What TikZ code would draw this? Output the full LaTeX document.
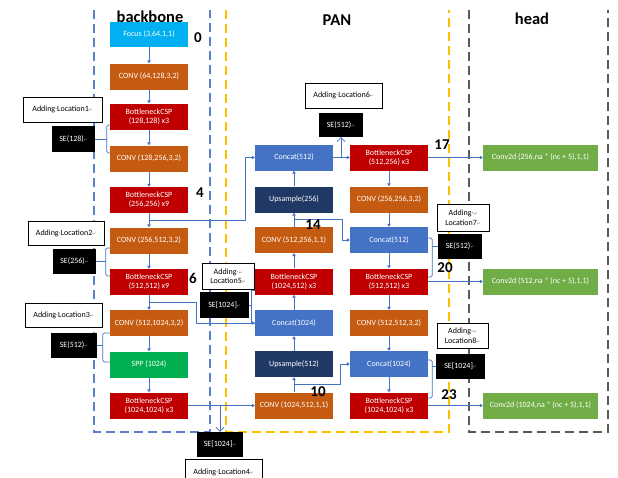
\documentclass[tikz,border=0pt]{standalone}
\usepackage{fontspec}
\setmainfont{Carlito}
\newfontfamily\dejavu{DejaVu Sans}
\usetikzlibrary{arrows.meta,calc}
\definecolor{cOrange}{RGB}{197,90,17}
\definecolor{cRed}{RGB}{192,0,0}
\definecolor{cCyan}{RGB}{0,176,240}
\definecolor{cGreen}{RGB}{0,176,80}
\definecolor{cBlue}{RGB}{68,114,196}
\definecolor{cNavy}{RGB}{31,56,100}
\definecolor{cHead}{RGB}{112,173,71}
\definecolor{cArrow}{RGB}{68,114,196}
\definecolor{cBack}{RGB}{91,130,200}
\definecolor{cPan}{RGB}{255,192,0}
\definecolor{cHeadF}{RGB}{85,95,75}
\newcommand\retm{{\fontsize{4.5}{4.5}\selectfont\dejavu\color{gray}↵}}
\newcommand\dotm{{\color{gray}·}}
\begin{document}
\begin{tikzpicture}[x=1pt,y=-1pt,
  blk/.style={minimum width=78pt,minimum height=26pt,inner sep=0pt,text=white,font=\fontsize{8}{9}\selectfont,align=center},
  boxOr/.style={blk,fill=cOrange},
  boxRed/.style={blk,fill=cRed},
  boxCy/.style={blk,fill=cCyan,minimum height=25pt},
  boxGr/.style={blk,fill=cGreen},
  boxBl/.style={blk,fill=cBlue},
  boxNv/.style={blk,fill=cNavy},
  boxHd/.style={blk,fill=cHead,minimum width=115pt},
  addbox/.style={draw=black,line width=0.6pt,fill=white,inner sep=0pt,font=\fontsize{8}{9.5}\selectfont,align=center,minimum height=25pt},
  sebox/.style={fill=black,text=white,inner sep=0pt,font=\fontsize{8}{9}\selectfont,minimum height=25pt},
  numlbl/.style={font=\bfseries\fontsize{15}{15}\selectfont,inner sep=0pt},
  titlelbl/.style={font=\bfseries\fontsize{16.5}{16.5}\selectfont,inner sep=0pt},
  conn/.style={draw=cArrow,line width=0.7pt},
  arr/.style={conn,-{Triangle[length=3pt,width=3.5pt]}},
  openarr/.style={conn,-{Straight Barb[length=4pt,width=8pt]}}]
\fill[white] (0,0) rectangle (618,477);
\useasboundingbox (0,0) rectangle (618,477);

% frames
\draw[cBack,line width=1.3pt,dash pattern=on 9pt off 5pt] (94,10) -- (94,432) -- (210,432) -- (210,10);
\draw[cPan,line width=1.3pt,dash pattern=on 9pt off 5pt] (226,10) -- (226,432) -- (449,432) -- (449,10);
\draw[cHeadF,line width=1.3pt,dash pattern=on 9pt off 5pt] (469,10) -- (469,432) -- (608,432) -- (608,10);

% titles
\node[titlelbl] (tback) at (150,17) {backbone};
\node[titlelbl] (tpan) at (337,20) {PAN};
\node[titlelbl] (thead) at (532,19) {head};

% backbone
\node[boxCy] (focus) at (149,34.5) {Focus (3,64,1,1)};
\node[boxOr] (bc1) at (149,76.5) {CONV (64,128,3,2)};
\node[boxRed] (bb1) at (149,116.5) {BottleneckCSP\\(128,128) x3};
\node[boxOr] (bc2) at (149,158.5) {CONV (128,256,3,2)};
\node[boxRed] (bb2) at (149,200) {BottleneckCSP\\(256,256) x9};
\node[boxOr] (bc3) at (149,240.5) {CONV (256,512,3,2)};
\node[boxRed] (bb3) at (149,282) {BottleneckCSP\\(512,512) x9};
\node[boxOr] (bc4) at (149,323) {CONV (512,1024,3,2)};
\node[boxGr] (spp) at (149,364.5) {SPP (1024)};
\node[boxRed] (bb4) at (149,405.5) {BottleneckCSP\\(1024,1024) x3};

% PAN column 1
\node[boxBl] (pcat1) at (294,157.5) {Concat(512)};
\node[boxNv] (pup1) at (294,199.5) {Upsample(256)};
\node[boxOr] (pconv1) at (294,240) {CONV (512,256,1,1)};
\node[boxRed] (pb1) at (294,281.5) {BottleneckCSP\\(1024,512) x3};
\node[boxBl] (pcat2) at (294,323) {Concat(1024)};
\node[boxNv] (pup2) at (294,364) {Upsample(512)};
\node[boxOr] (pconv2) at (294,405.5) {CONV (1024,512,1,1)};

% PAN column 2
\node[boxRed] (qb1) at (389,157.5) {BottleneckCSP\\(512,256) x3};
\node[boxOr] (qc1) at (389,199.5) {CONV (256,256,3,2)};
\node[boxBl] (qcat1) at (389,240) {Concat(512)};
\node[boxRed] (qb2) at (389,281.5) {BottleneckCSP\\(512,512) x3};
\node[boxOr] (qc2) at (389,323) {CONV (512,512,3,2)};
\node[boxBl] (qcat2) at (389,364) {Concat(1024)};
\node[boxRed] (qb3) at (389,405.5) {BottleneckCSP\\(1024,1024) x3};

% head
\node[boxHd] (h1) at (540.5,157.5) {Conv2d (256,na * (nc + 5),1,1)};
\node[boxHd] (h2) at (540.5,281.5) {Conv2d (512,na * (nc + 5),1,1)};
\node[boxHd] (h3) at (540.5,405.5) {Conv2d (1024,na * (nc + 5),1,1)};

% adding locations and SE blocks
\node[addbox,minimum width=79pt] (al1) at (62.5,109.5) {Adding\dotm Location1\retm};
\node[sebox,minimum width=43pt,minimum height=26pt] (se1) at (73.5,139) {SE(128)\retm};
\node[addbox,minimum width=76pt,minimum height=24pt] (al2) at (66,233) {Adding\dotm Location2\retm};
\node[sebox,minimum width=43pt] (se2) at (74.5,261.5) {SE(256)\retm};
\node[addbox,minimum width=77pt,minimum height=24pt] (al3) at (63.5,315) {Adding\dotm Location3\retm};
\node[sebox,minimum width=46pt] (se3) at (74,345.5) {SE(512)\retm};
\node[sebox,minimum width=46pt] (se4) at (220,444.5) {SE[1024]\retm};
\node[addbox,minimum width=77pt,minimum height=26pt] (al4) at (223.5,472) {Adding\dotm Location4\retm};
\node[addbox,minimum width=52pt,minimum height=26pt] (al5) at (228,276) {Adding\dotm\retm\\Location5\retm};
\node[sebox,minimum width=49pt,minimum height=26pt] (se5) at (224.5,305) {SE[1024]\retm};
\node[addbox,minimum width=77pt] (al6) at (343.5,95.5) {Adding\dotm Location6\retm};
\node[sebox,minimum width=44pt,minimum height=24pt] (se6) at (341,125) {SE(512)\retm};
\node[addbox,minimum width=52pt,minimum height=27pt] (al7) at (463,217.5) {Adding\dotm\retm\\Location7\retm};
\node[sebox,minimum width=44pt] (se7) at (460,246.5) {SE(512)\retm};
\node[addbox,minimum width=51pt] (al8) at (462.5,335.5) {Adding\dotm\retm\\Location8\retm};
\node[sebox,minimum width=49pt] (se8) at (460.5,366.5) {SE[1024]\retm};

% backbone flow
\foreach \a/\b in {focus/bc1,bc1/bb1,bb1/bc2,bc2/bb2,bb2/bc3,bc3/bb3,bb3/bc4,bc4/spp,spp/bb4}
  \draw[arr] (\a.south) -- (\b.north);
% PAN column 1 (upwards)
\foreach \a/\b in {pconv2/pup2,pup2/pcat2,pcat2/pb1,pb1/pconv1,pconv1/pup1,pup1/pcat1}
  \draw[arr] (\a.north) -- (\b.south);
% PAN column 2 (downwards)
\foreach \a/\b in {qb1/qc1,qc1/qcat1,qcat1/qb2,qb2/qc2,qc2/qcat2,qcat2/qb3}
  \draw[arr] (\a.south) -- (\b.north);

% cross links
\draw[arr] ($(bb2.south)!.5!(bc3.north)$) -- ++(96,0) |- (pcat1.west);
\draw[arr] ($(bb3.south)!.5!(bc4.north)$) -- ++(47,0) |- (pcat2.west);
\draw[arr] (bb4.east) -- (pconv2.west);
\draw[arr] ($(pconv1.north)!.5!(pup1.south)$) -- ++(48,0) |- (qcat1.west);
\draw[arr] ($(pconv2.north)!.5!(pup2.south)$) -- ++(46,0) |- (qcat2.west);
\draw[arr] (pcat1.east) -- (qb1.west);
\draw[arr] (qb1.east) -- (h1.west);
\draw[arr] (qb2.east) -- (h2.west);
\draw[arr] (qb3.east) -- (h3.west);

% SE arrows
\draw[openarr] (se6.south |- pcat1.east) -- (se6.south);
\draw[openarr] (se4.north |- bb4.east) -- (se4.north);

% SE brackets
\draw[conn,rounded corners=1.5pt] ([yshift=-8.5pt]bb1.west) -- ++(-3,0) |- ([yshift=5.5pt]bc2.west);
\draw[conn] (se1.east) -- ++(12,0);
\draw[conn,rounded corners=1.5pt] ([yshift=-7.5pt]bc3.west) -- ++(-4,0) |- ([yshift=6pt]bb3.west);
\draw[conn] (se2.east) -- ++(10,0);
\draw[conn,rounded corners=1.5pt] ([yshift=-10pt]bc4.west) -- ++(-7,0) |- ([yshift=2.5pt]spp.west);
\draw[conn] (se3.east) -- ++(6,0);
\draw[conn] ([yshift=-8.5pt]pb1.west) -- ++(-3,0) |- (pcat2.west);
\draw[conn] (se5.east) -- ++(3,0);
\draw[conn,rounded corners=1.5pt] ([yshift=2pt]qcat1.east) -- ++(4,0) |- ([yshift=4.5pt]qb2.east);
\draw[conn] (se7.west) -- ++(-6,0);
\draw[conn,rounded corners=1.5pt] ([yshift=4pt]qcat2.east) -- ++(4,0) |- ([yshift=7.5pt]qb3.east);
\draw[conn] (se8.west) -- ++(-4,0);

% layer numbers
\node[numlbl] (n0) at (198,38) {0};
\node[numlbl] (n4) at (200,193) {4};
\node[numlbl] (n6) at (193,278) {6};
\node[numlbl] (n17) at (442,145) {17};
\node[numlbl] (n14) at (313,225) {14};
\node[numlbl] (n20) at (445,268) {20};
\node[numlbl] (n10) at (318,391.5) {10};
\node[numlbl] (n23) at (449,395) {23};
\end{tikzpicture}
\end{document}
